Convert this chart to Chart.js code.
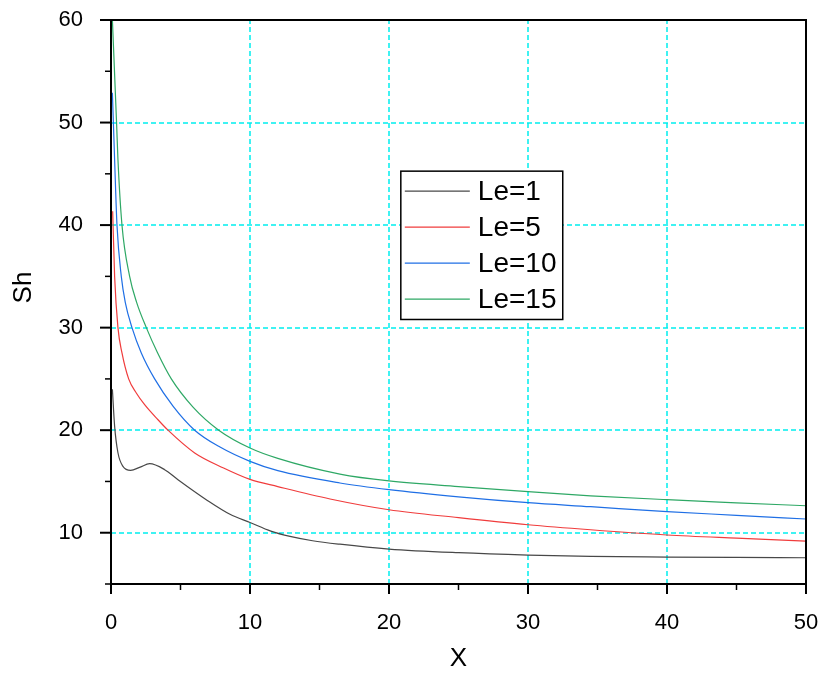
<!DOCTYPE html>
<html>
<head>
<meta charset="utf-8">
<style>
  html, body { margin: 0; padding: 0; background: #fff; }
</style>
<script src="https://cdn.jsdelivr.net/npm/chart.js@4.4.1/dist/chart.umd.min.js"></script>
</head>
<body>
<canvas id="chart" width="821" height="674"></canvas>
<script>
// Sh against X for four Lewis numbers

const seriesNames = ['Le=1', 'Le=5', 'Le=10', 'Le=15'];
const seriesColors = ['#484848', '#f03c3c', '#1f6fe5', '#2ea865'];

const xLe1 = [0.1, 0.26, 0.5, 0.86, 1.41, 2.1, 2.78, 3.86, 4.82, 6.88, 8.56, 10, 11.5, 12.88, 14.5, 16.47, 20, 25, 30, 34.5, 40, 45, 50];
const yLe1 = [24, 20.4, 17.8, 16.47, 16.08, 16.4, 16.73, 16.15, 15.17, 13.2, 11.8, 11.0, 10.16, 9.64, 9.22, 8.88, 8.41, 8.05, 7.82, 7.69, 7.63, 7.59, 7.56];

const xLe5 = [0.12, 0.26, 0.5, 0.79, 1.27, 1.82, 2.42, 3.38, 4.1, 6.02, 8.1, 10, 12, 15.76, 20, 25, 30, 34.5, 40, 45, 50];
const yLe5 = [41.35, 35, 30, 27.53, 25, 23.63, 22.49, 21.02, 20, 17.78, 16.31, 15.2, 14.5, 13.29, 12.24, 11.47, 10.78, 10.29, 9.78, 9.47, 9.19];

const xLe10 = [0.1, 0.26, 0.43, 0.74, 1.03, 1.51, 2.18, 3.14, 4.46, 6.02, 7.84, 10, 12, 16.47, 20, 25, 30, 34.5, 40, 45, 50];
const yLe10 = [52.9, 46.4, 40, 35, 32.44, 30, 27.53, 25, 22.35, 20, 18.35, 16.96, 16.05, 14.85, 14.2, 13.5, 12.93, 12.54, 12.05, 11.7, 11.34];

const xLe15 = [0.1, 0.4, 0.5, 0.79, 1.34, 1.85, 2.54, 3.33, 4.34, 5.9, 7.75, 10, 12, 16.47, 20, 25, 30, 34.5, 40, 45, 50];
const yLe15 = [60, 50, 46.4, 40, 35, 32.44, 30, 27.6, 25, 22.25, 20, 18.26, 17.25, 15.72, 15.05, 14.5, 14.0, 13.6, 13.22, 12.92, 12.63];

const seriesX = [xLe1, xLe5, xLe10, xLe15];
const seriesY = [yLe1, yLe5, yLe10, yLe15];

const FONT = "'Liberation Sans', Arial, sans-serif";
const GRID = '#00eeee';

const isMajor = v => Math.abs(v % 10) < 1e-9;

// dashed grid at the labelled ticks, under the curves
const gridPlugin = {
  id: 'cyanGrid',
  beforeDatasetsDraw(chart) {
    const { ctx, chartArea: a, scales } = chart;
    ctx.save();
    ctx.strokeStyle = GRID;
    ctx.lineWidth = 1.5;
    ctx.setLineDash([5, 3]);
    scales.x.ticks.forEach(t => {
      if (!isMajor(t.value)) return;
      const px = Math.round(scales.x.getPixelForValue(t.value));
      ctx.beginPath();
      ctx.moveTo(px, a.bottom);
      ctx.lineTo(px, a.top);
      ctx.stroke();
    });
    scales.y.ticks.forEach(t => {
      if (!isMajor(t.value)) return;
      const py = Math.round(scales.y.getPixelForValue(t.value));
      ctx.beginPath();
      ctx.moveTo(a.left, py);
      ctx.lineTo(a.right, py);
      ctx.stroke();
    });
    ctx.restore();
  }
};

// ticks drawn outward, frame box and the boxed legend inside the plot
const framePlugin = {
  id: 'frame',
  afterDraw(chart) {
    const { ctx, chartArea: a, scales } = chart;
    ctx.save();
    ctx.strokeStyle = '#000';

    scales.x.ticks.forEach(t => {
      const px = scales.x.getPixelForValue(t.value);
      const major = isMajor(t.value);
      ctx.lineWidth = major ? 2 : 1.5;
      ctx.beginPath();
      ctx.moveTo(px, a.bottom);
      ctx.lineTo(px, a.bottom + (major ? 10 : 6));
      ctx.stroke();
    });
    scales.y.ticks.forEach(t => {
      const py = scales.y.getPixelForValue(t.value);
      const major = isMajor(t.value);
      ctx.lineWidth = major ? 2 : 1.5;
      ctx.beginPath();
      ctx.moveTo(a.left, py);
      ctx.lineTo(a.left - (major ? 11 : 6), py);
      ctx.stroke();
    });

    ctx.lineWidth = 2;
    ctx.strokeRect(a.left, a.top, a.right - a.left, a.bottom - a.top);

    // legend box
    const w = a.right - a.left, h = a.bottom - a.top;
    const bx = a.left + w * 0.417, by = a.top + h * 0.268;
    const bw = w * 0.233, bh = h * 0.263;
    ctx.fillStyle = '#fff';
    ctx.fillRect(bx, by, bw, bh);
    ctx.lineWidth = 1.5;
    ctx.strokeRect(bx, by, bw, bh);
    ctx.font = '28px ' + FONT;
    ctx.textBaseline = 'middle';
    ctx.textAlign = 'left';
    chart.data.datasets.forEach((ds, i) => {
      const ry = by + 20 + i * 36;
      ctx.strokeStyle = ds.borderColor;
      ctx.lineWidth = 1.2;
      ctx.beginPath();
      ctx.moveTo(bx + 4, ry);
      ctx.lineTo(bx + 69, ry);
      ctx.stroke();
      ctx.fillStyle = '#000';
      ctx.fillText(ds.label, bx + 77, ry + 1);
    });
    ctx.restore();
  }
};

const datasets = seriesNames.map((name, i) => ({
  label: name,
  data: seriesX[i].map((x, k) => ({ x, y: seriesY[i][k] })),
  borderColor: seriesColors[i],
  backgroundColor: 'transparent',
  borderWidth: 1.2,
  pointRadius: 0,
  cubicInterpolationMode: 'monotone'
}));

new Chart(document.getElementById('chart'), {
  type: 'line',
  data: { datasets },
  plugins: [gridPlugin, framePlugin],
  options: {
    responsive: false,
    animation: false,
    layout: { padding: { top: 20, right: 15, left: 0, bottom: 0 } },
    plugins: { legend: { display: false }, tooltip: { enabled: false } },
    scales: {
      x: {
        type: 'linear',
        min: 0,
        max: 50,
        afterFit: s => { s.height = 90; s.paddingLeft = 0; s.paddingRight = 0; },
        ticks: {
          stepSize: 5,
          autoSkip: false,
          maxRotation: 0,
          padding: 18,
          color: '#000',
          font: { family: FONT, size: 22 },
          callback: v => (isMajor(v) ? v : '')
        },
        grid: { display: false },
        border: { display: false },
        title: { display: true, text: 'X', color: '#000', font: { family: FONT, size: 26 }, padding: { top: 0, bottom: 0 } }
      },
      y: {
        min: 5,
        max: 60,
        afterFit: s => { s.width = 111; s.paddingTop = 0; s.paddingBottom = 0; },
        ticks: {
          stepSize: 5,
          autoSkip: false,
          padding: 20,
          color: '#000',
          font: { family: FONT, size: 22 },
          callback: v => (isMajor(v) ? v : '')
        },
        grid: { display: false },
        border: { display: false },
        title: { display: true, text: '    Sh', color: '#000', font: { family: FONT, size: 26 }, padding: { top: 8, bottom: 0 } }
      }
    }
  }
});
</script>
</body>
</html>
